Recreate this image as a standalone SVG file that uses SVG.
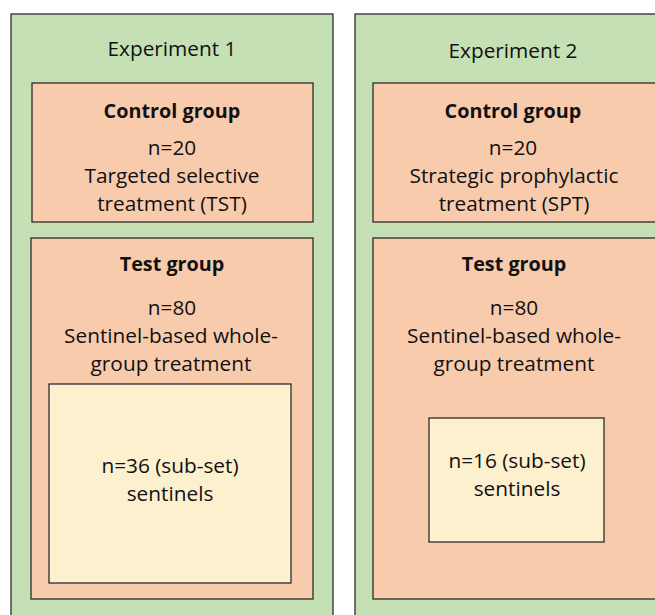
<svg xmlns="http://www.w3.org/2000/svg" width="655" height="615" viewBox="0 0 655 615">
<style>
.exp{fill:#C5E0B4;stroke:#2b2b2b;stroke-width:1.3}
.grp{fill:#F8CBAD;stroke:#2b2b2b;stroke-width:1.3}
.sen{fill:#FCF0CF;stroke:#2b2b2b;stroke-width:1.3}
text{font-family:"Open Sans","Liberation Sans",sans-serif;font-size:20.8px;fill:#111;text-anchor:middle}
.b{font-weight:bold;font-size:19.8px}
</style>
<rect width="655" height="615" fill="#fff"/>
<g id="exp1">
<rect class="exp" x="11" y="14" width="322" height="610"/>
<text x="172" y="56">Experiment 1</text>
</g>
<g id="exp2">
<rect class="exp" x="355" y="14" width="310" height="610"/>
<text x="513" y="58">Experiment 2</text>
</g>
<g id="control1">
<rect class="grp" x="32" y="83" width="281" height="139"/>
<text class="b" x="172" y="118">Control group</text>
<text x="172" y="155">n=20</text>
<text x="172" y="183">Targeted selective</text>
<text x="172" y="211">treatment (TST)</text>
</g>
<g id="control2">
<rect class="grp" x="373" y="83" width="290" height="139"/>
<text class="b" x="513" y="118">Control group</text>
<text x="513" y="155">n=20</text>
<text x="514" y="183">Strategic prophylactic</text>
<text x="514" y="211">treatment (SPT)</text>
</g>
<g id="test1">
<rect class="grp" x="31" y="238" width="282" height="361"/>
<text class="b" x="172" y="271">Test group</text>
<text x="172" y="315">n=80</text>
<text x="171" y="343">Sentinel-based whole-</text>
<text x="171" y="371">group treatment</text>
</g>
<g id="test2">
<rect class="grp" x="373" y="238" width="290" height="361"/>
<text class="b" x="514" y="271">Test group</text>
<text x="514" y="315">n=80</text>
<text x="514" y="343">Sentinel-based whole-</text>
<text x="514" y="371">group treatment</text>
</g>
<g id="sentinels1">
<rect class="sen" x="49" y="384" width="242" height="199"/>
<text x="170" y="473">n=36 (sub-set)</text>
<text x="170" y="501">sentinels</text>
</g>
<g id="sentinels2">
<rect class="sen" x="429" y="418" width="175" height="124"/>
<text x="517" y="468">n=16 (sub-set)</text>
<text x="517" y="496">sentinels</text>
</g>
<g id="connectors"/>
</svg>
